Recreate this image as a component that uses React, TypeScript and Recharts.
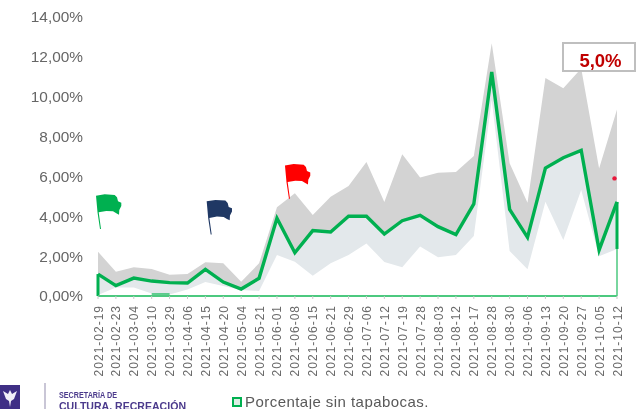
import React from "react";
import {
  ComposedChart,
  Area,
  Line,
  XAxis,
  YAxis,
  ReferenceLine,
  ReferenceDot,
} from "recharts";

const fechas = [
  "2021-02-19", "2021-02-23", "2021-03-04", "2021-03-10", "2021-03-29", "2021-04-06",
  "2021-04-15", "2021-04-20", "2021-05-04", "2021-05-21", "2021-06-01", "2021-06-08",
  "2021-06-15", "2021-06-21", "2021-06-29", "2021-07-06", "2021-07-12", "2021-07-19",
  "2021-07-28", "2021-08-03", "2021-08-12", "2021-08-17", "2021-08-28", "2021-08-30",
  "2021-09-06", "2021-09-13", "2021-09-20", "2021-09-27", "2021-10-05", "2021-10-12",
];

const sinTapabocas = [
  1.1, 0.52, 0.9, 0.75, 0.67, 0.65, 1.34, 0.7, 0.35, 0.89, 3.9, 2.17, 3.28, 3.21, 4.0,
  4.0, 3.11, 3.78, 4.05, 3.48, 3.08, 4.62, 11.24, 4.35, 2.94, 6.42, 6.94, 7.31, 2.31, 4.72,
];

const limiteSuperior = [
  2.22, 1.22, 1.44, 1.35, 1.07, 1.1, 1.69, 1.64, 0.72, 1.64, 4.45, 5.15, 4.06, 4.98, 5.52,
  6.72, 4.72, 7.11, 5.95, 6.19, 6.22, 7.02, 12.68, 6.66, 4.68, 10.94, 10.42, 11.42, 6.4, 9.36,
];

const limiteInferior = [
  0.05, 0.43, 0.43, 0.13, 0.07, 0.33, 0.7, 0.5, 0.3, 0.25, 2.06, 1.72, 1.02, 1.64, 2.06,
  2.63, 1.71, 1.44, 2.49, 1.94, 2.06, 3.01, 9.83, 2.26, 1.34, 4.73, 2.81, 5.32, 2.0, 2.36,
];

const yTicks = [0, 2, 4, 6, 8, 10, 12, 14];

const data = fechas.map((fecha, i) => ({
  fecha,
  valor: sinTapabocas[i],
  arriba: [sinTapabocas[i], limiteSuperior[i]],
  abajo: [limiteInferior[i], sinTapabocas[i]],
}));

const FONT = "'Liberation Sans', Arial, sans-serif";
const VERDE = "#00B050";
const VERDE_CLARO = "#4cc97f";

const flagPath =
  "M-5,-33.3 L3.7,-34.7 L13.7,-34 L16,-31.7 L17,-27.7 L20.3,-26.3 L20.3,-23 L18.3,-19 L18,-14.3 " +
  "L15.3,-15.7 L12,-17.7 L5.3,-18 L-2.3,-16.7 L0,0 L-1,0 L-3.5,-16.7 Z";

const Flag = (color: string, dx: number) => (props: any) => (
  <path d={flagPath} fill={color} transform={`translate(${props.cx + dx},${props.cy})`} />
);

const DateTick = (props: any) => {
  const { x, payload } = props;
  return (
    <text
      transform={`translate(${x + 4.5},305) rotate(-90)`}
      textAnchor="end"
      fontSize={12}
      letterSpacing={1}
      fontFamily={FONT}
      fill="#6a6a6a"
    >
      {payload.value}
    </text>
  );
};

export default function App() {
  return (
    <div
      style={{
        position: "absolute",
        left: 0,
        top: 0,
        width: 642,
        height: 409,
        overflow: "hidden",
        background: "#fff",
        filter: "blur(0.35px)",
      }}
    >
      <ComposedChart
        width={642}
        height={409}
        data={data}
        margin={{ top: 17, right: 25, left: 0, bottom: 0 }}
      >
        <XAxis
          dataKey="fecha"
          scale="point"
          padding={{ left: 0, right: 0 }}
          interval={0}
          height={113}
          tick={<DateTick />}
          tickSize={3}
          axisLine={{ stroke: VERDE_CLARO, strokeWidth: 2 }}
          tickLine={{ stroke: "#c8c8c8" }}
        />
        <YAxis
          width={98}
          domain={[0, 14]}
          ticks={yTicks}
          interval={0}
          axisLine={false}
          tickLine={false}
          tickSize={7}
          tickMargin={8}
          tick={{ fontSize: 15.4, fill: "#666", fontFamily: FONT }}
          tickFormatter={(v: number) => v.toFixed(2).replace(".", ",") + "%"}
        />
        <Area
          dataKey="arriba"
          type="linear"
          stroke="none"
          fill="#D3D3D3"
          fillOpacity={1}
          dot={false}
          activeDot={false}
          isAnimationActive={false}
        />
        <Area
          dataKey="abajo"
          type="linear"
          stroke="none"
          fill="#E3E8EB"
          fillOpacity={1}
          dot={false}
          activeDot={false}
          isAnimationActive={false}
        />
        <ReferenceLine
          segment={[
            { x: fechas[0], y: 0 },
            { x: fechas[29], y: 0 },
          ]}
          stroke={VERDE_CLARO}
          strokeWidth={2}
        />
        <ReferenceLine
          segment={[
            { x: fechas[29], y: 0 },
            { x: fechas[29], y: limiteInferior[29] },
          ]}
          stroke={VERDE_CLARO}
          strokeWidth={1.5}
        />
        <ReferenceLine
          segment={[
            { x: fechas[0], y: 0 },
            { x: fechas[0], y: sinTapabocas[0] },
          ]}
          stroke={VERDE}
          strokeWidth={3}
        />
        <ReferenceLine
          segment={[
            { x: fechas[29], y: limiteInferior[29] },
            { x: fechas[29], y: sinTapabocas[29] },
          ]}
          stroke={VERDE}
          strokeWidth={3}
        />
        <ReferenceLine
          segment={[
            { x: fechas[3], y: 0.1 },
            { x: fechas[4], y: 0.1 },
          ]}
          stroke="#2fbf6d"
          strokeWidth={1.5}
        />
        <Line
          dataKey="valor"
          type="linear"
          stroke={VERDE}
          strokeWidth={3.4}
          dot={false}
          activeDot={false}
          isAnimationActive={false}
        />
        <ReferenceDot x={fechas[0]} y={3.36} shape={Flag("#00B050", 3)} />
        <ReferenceDot x={fechas[6]} y={3.08} shape={Flag("#1F3864", 6.3)} />
        <ReferenceDot x={fechas[11]} y={4.88} shape={Flag("#FF0000", -4.9)} />
        <ReferenceDot
          x={fechas[29]}
          y={5.9}
          shape={(p: any) => <circle cx={p.cx - 2.5} cy={p.cy} r={2.2} fill="#E8173A" />}
        />
      </ComposedChart>

      {/* caja del 5,0% */}
      <div
        style={{
          position: "absolute",
          left: 562,
          top: 42,
          width: 67,
          height: 26,
          border: "2px solid #BFBFBF",
          background: "#fff",
          color: "#C00000",
          fontFamily: FONT,
          fontWeight: 700,
          fontSize: 18.5,
          lineHeight: "34px",
          paddingLeft: 3,
          textAlign: "center",
        }}
      >
        5,0%
      </div>

      {/* leyenda */}
      <div
        style={{
          position: "absolute",
          left: 232,
          top: 397,
          width: 6,
          height: 6,
          border: "2.5px solid " + VERDE,
          background: "#DDEFE4",
        }}
      />
      <div
        style={{
          position: "absolute",
          left: 245,
          top: 393,
          fontFamily: FONT,
          fontSize: 15,
          lineHeight: "17px",
          letterSpacing: 0.45,
          color: "#595959",
          whiteSpace: "nowrap",
        }}
      >
        Porcentaje sin tapabocas.
      </div>

      {/* logo */}
      <svg
        width={200}
        height={30}
        style={{ position: "absolute", left: 0, top: 379 }}
      >
        <rect x={0} y={6} width={20} height={24} fill="#3F2F85" />
        <path d="M3,12 L8,15 L10,11 L12,15 L17,12 L14,20 L11,22 L10,28 L9,22 L6,20 Z" fill="#F2F0F8" />
        <rect x={44} y={4} width={2} height={26} fill="#C9C6D6" />
        <text
          x={59}
          y={19}
          fontFamily="'Liberation Sans Narrow', 'Liberation Sans', sans-serif"
          fontWeight={700}
          fontSize={9}
          textLength={58}
          lengthAdjust="spacingAndGlyphs"
          fill="#4B3A8C"
        >
          SECRETARÍA DE
        </text>
        <text
          x={59}
          y={31}
          fontFamily="'Liberation Sans', sans-serif"
          fontWeight={700}
          fontSize={11.5}
          textLength={127}
          lengthAdjust="spacingAndGlyphs"
          fill="#4B3A8C"
        >
          CULTURA, RECREACIÓN
        </text>
      </svg>
    </div>
  );
}
